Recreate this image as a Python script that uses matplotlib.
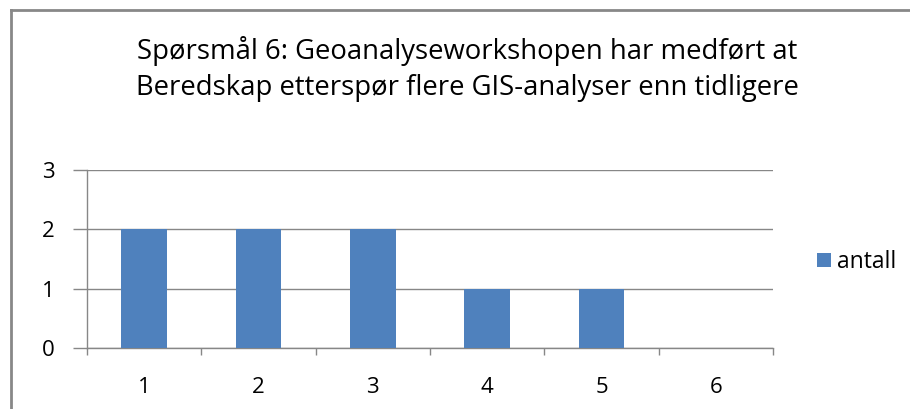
import matplotlib.pyplot as plt
from matplotlib.lines import Line2D
import numpy as np

plt.rcParams['font.family'] = ['Open Sans', 'DejaVu Sans']

# Data
categories = ['1', '2', '3', '4', '5', '6']
antall = [2, 2, 2, 1, 1, 0]
title = 'Spørsmål 6: Geoanalyseworkshopen har medført at\nBeredskap etterspør flere GIS-analyser enn tidligere'

W, H = 910, 409
fig = plt.figure(figsize=(W / 100, H / 100), dpi=100)

# Plot area in pixel coordinates
left, right, top, bottom = 87, 773, 170, 348
ax = fig.add_axes([left / W, 1 - bottom / H, (right - left) / W, (bottom - top) / H])

x = np.arange(1, len(categories) + 1)
bar_color = '#4F81BD'
ax.bar(x, antall, width=0.4, color=bar_color, label='antall', zorder=3)

grid_color = '#878787'
ax.set_xlim(0.5, len(categories) + 0.5)
ax.set_ylim(0, 3)
ax.set_yticks([0, 1, 2, 3])
ax.yaxis.grid(True, color=grid_color, linewidth=1)
ax.set_axisbelow(True)

for side in ['top', 'right']:
    ax.spines[side].set_visible(False)
for side in ['left', 'bottom']:
    ax.spines[side].set_color(grid_color)
    ax.spines[side].set_linewidth(1)

# category labels centred, ticks on the boundaries
ax.set_xticks(x)
ax.set_xticklabels(categories)
ax.tick_params(axis='x', length=0, pad=21, labelsize=16, colors='#000000')
ax.set_xticks(np.arange(0.5, len(categories) + 1), minor=True)
ax.tick_params(axis='x', which='minor', length=5, color=grid_color, width=1)
ax.tick_params(axis='y', length=10, color=grid_color, width=1, pad=13, labelsize=16)

fig.text(467 / W, 1 - 69 / H, title, ha='center', va='center',
         fontsize=19.8, linespacing=1.4)

# legend
fig.legend(loc='center left', bbox_to_anchor=(806 / W, 1 - 262 / H),
           frameon=False, fontsize=16.5, handlelength=0.6, handleheight=0.6,
           handletextpad=0.25, borderpad=0)

# chart border (cropped at right and bottom)
border = '#888888'
fig.add_artist(Line2D([11 / W, 11 / W], [0, 1 - 10 / H], color=border, lw=2))
fig.add_artist(Line2D([11 / W, 1], [1 - 10 / H, 1 - 10 / H], color=border, lw=2))

fig.savefig('out.png', dpi=100)
